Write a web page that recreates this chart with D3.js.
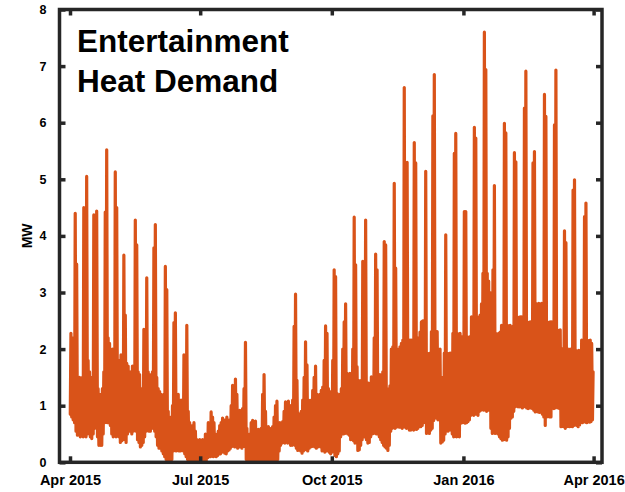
<!DOCTYPE html>
<html>
<head>
<meta charset="utf-8">
<script src="https://cdn.jsdelivr.net/npm/d3@7"></script>
<style>
  html, body { margin: 0; padding: 0; background: #fff; }
  svg { display: block; }
  text { font-family: "Liberation Sans", Arial, Helvetica, sans-serif; font-weight: bold; }
</style>
</head>
<body>
<svg id="chart" width="625" height="492"></svg>
<script>
// Daily high / low of heat demand (MW), one value per day from 1 Apr 2015 to 31 Mar 2016
const dailyHigh = [
  2.28, 2.2, 1.5, 4.4, 3.5, 1.4, 1.5,
  1.4, 1.5, 4.5, 1.8, 5.05, 1.8, 1.6,
  1.5, 1.3, 4.37, 1.4, 4.44, 1.3, 1.2,
  1.2, 1.3, 1.6, 4.42, 5.52, 2.2, 2.1,
  1.8, 2.0, 1.9, 5.13, 4.5, 1.7, 1.8,
  1.9, 1.8, 3.66, 2.6, 1.75, 1.7, 1.6,
  1.6, 1.7, 1.5, 4.28, 3.84, 1.6, 1.55,
  1.3, 1.2, 2.35, 1.4, 3.26, 1.6, 1.5,
  1.55, 1.6, 3.79, 4.2, 1.5, 1.3, 1.25,
  1.2, 1.0, 1.2, 3.46, 3.05, 0.9, 0.7,
  0.8, 1.0, 2.47, 2.64, 1.1, 1.2, 1.0,
  1.1, 1.0, 1.9, 1.3, 2.42, 0.9, 0.7,
  0.6, 0.65, 0.7, 0.55, 0.4, 0.35, 0.4,
  0.35, 0.4, 0.38, 0.5, 0.42, 0.7, 0.6,
  0.89, 0.8, 0.7, 0.5, 0.45, 0.55, 0.65,
  0.7, 0.78, 0.65, 0.75, 0.8, 0.7, 0.75,
  1.0, 1.36, 1.1, 1.47, 1.2, 0.9, 0.92,
  0.9, 0.95, 1.3, 2.12, 0.6, 0.35, 0.5,
  0.7, 0.74, 0.6, 0.73, 0.55, 0.58, 0.5,
  0.6, 1.2, 1.55, 0.9, 0.6, 0.63, 0.55,
  0.6, 0.63, 0.8, 1.0, 1.08, 0.6, 0.7,
  0.69, 0.72, 0.9, 1.07, 1.0, 1.08, 1.0,
  1.0, 1.1, 2.4, 2.97, 1.45, 0.86, 0.85,
  0.9, 1.1, 1.5, 2.13, 1.72, 1.1, 1.05,
  1.1, 1.27, 1.5, 1.7, 1.2, 1.1, 1.2,
  1.27, 1.33, 1.8, 2.41, 2.28, 1.3, 1.25,
  1.22, 1.8, 3.4, 3.28, 1.22, 1.1, 1.2,
  1.3, 2.0, 2.48, 2.8, 1.57, 1.5, 1.57,
  1.45, 2.0, 4.33, 3.49, 1.69, 1.45, 1.4,
  1.45, 3.55, 2.0, 4.28, 1.33, 1.4, 1.3,
  1.51, 1.5, 2.2, 3.68, 3.4, 1.51, 1.55,
  1.27, 1.6, 3.9, 3.84, 1.3, 1.27, 1.35,
  2.0, 2.04, 4.93, 3.43, 2.0, 1.9, 2.04,
  2.1, 2.16, 6.62, 2.2, 5.3, 2.1, 2.16,
  2.16, 2.1, 5.65, 5.29, 2.16, 2.2, 2.3,
  2.48, 2.5, 2.5, 5.14, 1.93, 1.9, 1.93,
  2.31, 6.12, 6.85, 2.3, 2.31, 1.93, 2.0,
  1.16, 1.5, 1.93, 4.02, 1.93, 1.8, 1.93,
  1.93, 2.28, 5.46, 5.81, 2.28, 2.2, 2.28,
  2.22, 2.2, 4.43, 4.43, 2.22, 2.1, 2.22,
  2.57, 2.5, 5.92, 5.73, 2.57, 2.5, 2.6,
  2.8, 3.34, 7.6, 6.94, 3.34, 3.2, 3.0,
  2.28, 3.4, 4.89, 2.28, 2.2, 2.28, 2.3,
  2.42, 2.4, 5.99, 5.82, 2.42, 2.4, 2.42,
  2.39, 2.4, 5.47, 5.31, 2.57, 2.5, 2.57,
  2.57, 2.5, 6.26, 6.91, 2.48, 2.4, 2.48,
  2.48, 5.29, 5.49, 2.81, 2.7, 2.81, 2.75,
  2.81, 2.6, 6.5, 6.11, 2.48, 2.4, 2.48,
  2.48, 2.34, 5.96, 6.93, 2.34, 2.3, 2.34,
  2.01, 2.0, 4.09, 3.88, 2.01, 1.9, 2.0,
  1.98, 4.81, 4.99, 1.98, 1.9, 1.98, 1.95,
  2.16, 2.1, 4.34, 4.58, 2.16, 2.1, 2.16,
  2.1, 1.6
];
const dailyLow = [
  0.85, 0.8, 0.75, 0.7, 0.55, 0.48, 0.5,
  0.45, 0.5, 0.45, 0.5, 0.45, 0.5, 0.55,
  0.45, 0.42, 0.5, 0.6, 0.65, 0.45, 0.3,
  0.3, 0.3, 0.5, 0.7, 0.75, 0.7, 0.7,
  0.65, 0.5, 0.45, 0.5, 0.45, 0.5, 0.45,
  0.35, 0.38, 0.4, 0.42, 0.35, 0.5, 0.55,
  0.55, 0.5, 0.55, 0.6, 0.55, 0.4, 0.35,
  0.27, 0.3, 0.35, 0.45, 0.55, 0.6, 0.55,
  0.55, 0.6, 0.6, 0.55, 0.45, 0.3, 0.25,
  0.25, 0.2, 0.15, 0.1, 0.05, 0.0, 0.02,
  0.02, 0.05, 0.2, 0.25, 0.2, 0.22, 0.2,
  0.2, 0.22, 0.2, 0.15, 0.1, 0.05, 0.04,
  0.03, 0.02, 0.05, 0.03, 0.0, 0.0, 0.02,
  0.0, 0.02, 0.05, 0.0, 0.02, 0.08, 0.1,
  0.1, 0.12, 0.1, 0.12, 0.1, 0.12, 0.15,
  0.15, 0.18, 0.2, 0.16, 0.15, 0.2, 0.22,
  0.25, 0.28, 0.3, 0.27, 0.3, 0.25, 0.27,
  0.27, 0.25, 0.28, 0.3, 0.05, 0.0, 0.0,
  0.02, 0.0, 0.04, 0.05, 0.0, 0.02, 0.0,
  0.0, 0.04, 0.05, 0.02, 0.0, 0.02, 0.0,
  0.0, 0.02, 0.0, 0.03, 0.0, 0.05, 0.2,
  0.3, 0.34, 0.35, 0.34, 0.36, 0.34, 0.35,
  0.3, 0.3, 0.35, 0.3, 0.25, 0.21, 0.22,
  0.2, 0.16, 0.2, 0.25, 0.22, 0.2, 0.25,
  0.27, 0.28, 0.3, 0.27, 0.25, 0.27, 0.3,
  0.27, 0.2, 0.25, 0.18, 0.2, 0.22, 0.18,
  0.15, 0.18, 0.2, 0.12, 0.1, 0.15, 0.2,
  0.45, 0.5, 0.5, 0.51, 0.55, 0.5, 0.48,
  0.4, 0.42, 0.38, 0.34, 0.35, 0.21, 0.22,
  0.3, 0.4, 0.45, 0.45, 0.4, 0.34, 0.35,
  0.45, 0.5, 0.51, 0.52, 0.5, 0.5, 0.45,
  0.4, 0.35, 0.3, 0.27, 0.25, 0.21, 0.3,
  0.55, 0.6, 0.62, 0.6, 0.62, 0.65, 0.62,
  0.62, 0.6, 0.65, 0.62, 0.6, 0.62, 0.57,
  0.57, 0.6, 0.57, 0.6, 0.58, 0.6, 0.65,
  0.63, 0.65, 0.7, 0.74, 0.51, 0.55, 0.51,
  0.57, 0.6, 0.74, 0.8, 0.78, 0.75, 0.8,
  0.34, 0.36, 0.39, 0.5, 0.57, 0.55, 0.57,
  0.57, 0.5, 0.45, 0.48, 0.45, 0.5, 0.45,
  0.69, 0.7, 0.72, 0.69, 0.7, 0.72, 0.75,
  0.83, 0.85, 0.83, 0.85, 0.85, 0.83, 0.9,
  0.92, 0.95, 0.92, 0.95, 0.9, 0.92, 0.95,
  0.6, 0.51, 0.55, 0.51, 0.55, 0.5, 0.45,
  0.42, 0.39, 0.4, 0.42, 0.39, 0.45, 0.6,
  0.78, 0.8, 0.9, 0.98, 1.0, 0.98, 0.98,
  0.98, 0.96, 0.98, 1.0, 0.96, 0.95, 0.96,
  0.96, 0.95, 0.92, 0.89, 0.9, 0.89, 0.88,
  0.89, 0.85, 0.8, 0.65, 0.8, 0.82, 0.8,
  0.8, 0.96, 0.95, 0.96, 0.98, 0.96, 0.95,
  0.63, 0.65, 0.63, 0.6, 0.63, 0.65, 0.63,
  0.65, 0.63, 0.65, 0.67, 0.65, 0.63, 0.66,
  0.71, 0.7, 0.72, 0.71, 0.7, 0.72, 0.71,
  0.72, 0.75
];
const startDate = Date.UTC(2015, 3, 1);
const xTickDates = [Date.UTC(2015,3,1), Date.UTC(2015,6,1), Date.UTC(2015,9,1), Date.UTC(2016,0,1), Date.UTC(2016,3,1)];
const xTickLabels = ["Apr 2015", "Jul 2015", "Oct 2015", "Jan 2016", "Apr 2016"];
const yTicks = [0, 1, 2, 3, 4, 5, 6, 7, 8];
const titleLines = ["Entertainment", "Heat Demand"];
const yLabel = "MW";

(function () {
const DAY = 864e5;
const pL = 59.5, pR = 602, pT = 9.5, pB = 462.3;
const pxPerDay = (593.6 - 70) / 366;
const x = d3.scaleUtc()
  .domain([new Date(startDate - (70 - pL) / pxPerDay * DAY), new Date(startDate + (366 + (pR - 593.6) / pxPerDay) * DAY)])
  .range([pL, pR]);
const y = d3.scaleLinear().domain([0, 8]).range([pB, pT]);

// series: low in the night, high in the day
const series = [];
dailyHigh.forEach((h, i) => {
  series.push({ t: new Date(startDate + (i + 0.2) * DAY), v: dailyLow[i] });
  series.push({ t: new Date(startDate + (i + 0.65) * DAY), v: h });
});

const svg = d3.select("#chart");
const axisColor = "#262626";

svg.append("path")
  .datum(series)
  .attr("fill", "none")
  .attr("stroke", "#D95319")
  .attr("stroke-width", 3.2)
  .attr("stroke-linejoin", "round")
  .attr("stroke-linecap", "round")
  .attr("d", d3.line().x(d => x(d.t)).y(d => y(d.v)));

const tickLen = 6;
const fmtX = (d, i) => xTickLabels[i];
const gB = svg.append("g").attr("transform", `translate(0,${pB})`)
  .call(d3.axisBottom(x).tickValues(xTickDates.map(d => new Date(d))).tickFormat(fmtX).tickSizeInner(-tickLen).tickSizeOuter(0).tickPadding(12));
const gT = svg.append("g").attr("transform", `translate(0,${pT})`)
  .call(d3.axisTop(x).tickValues(xTickDates.map(d => new Date(d))).tickFormat("").tickSizeInner(-tickLen).tickSizeOuter(0));
const gL = svg.append("g").attr("transform", `translate(${pL},0)`)
  .call(d3.axisLeft(y).tickValues(yTicks).tickFormat(d3.format("d")).tickSizeInner(-tickLen).tickSizeOuter(0).tickPadding(13));
const gR = svg.append("g").attr("transform", `translate(${pR},0)`)
  .call(d3.axisRight(y).tickValues(yTicks).tickFormat("").tickSizeInner(-tickLen).tickSizeOuter(0));

[gB, gT, gL, gR].forEach(g => {
  g.select(".domain").remove();
  g.selectAll(".tick line").attr("stroke", axisColor).attr("stroke-width", 3.5);
  g.selectAll("text").attr("fill", "#000");
});
gB.selectAll("text").attr("font-size", 14.5).attr("font-family", "Liberation Sans, Arial, sans-serif").attr("font-weight", "bold");
gL.selectAll("text").attr("font-size", 12.5).attr("font-family", "Liberation Sans, Arial, sans-serif").attr("font-weight", "bold");

svg.append("rect")
  .attr("x", pL).attr("y", pT)
  .attr("width", pR - pL).attr("height", pB - pT)
  .attr("fill", "none").attr("stroke", axisColor).attr("stroke-width", 3.5);

svg.append("text")
  .attr("transform", `translate(32,${(pT + pB) / 2}) rotate(-90)`)
  .attr("text-anchor", "middle")
  .attr("font-size", 14)
  .text(yLabel);

svg.append("text")
  .attr("x", 77).attr("y", 51.5)
  .attr("font-size", 31.5)
  .text(titleLines[0]);
svg.append("text")
  .attr("x", 77).attr("y", 91.5)
  .attr("font-size", 31.5)
  .text(titleLines[1]);
})();
</script>
</body>
</html>
